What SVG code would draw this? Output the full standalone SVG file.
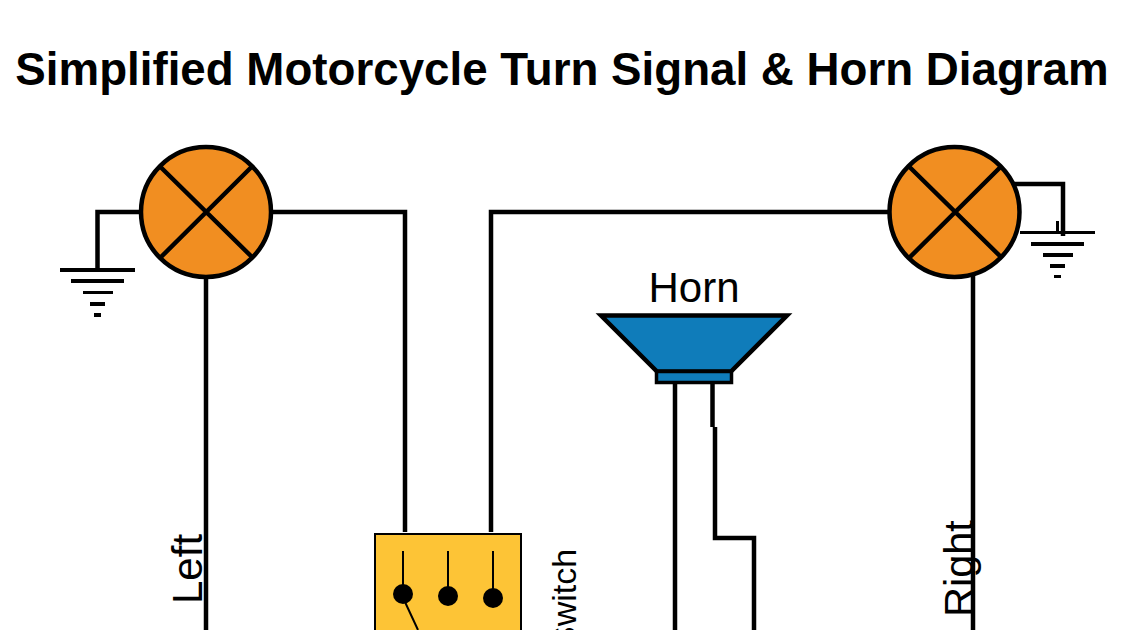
<svg xmlns="http://www.w3.org/2000/svg" width="1125" height="630" viewBox="0 0 1125 630">
<style>
text{font-family:"Liberation Sans",Arial,sans-serif;fill:#000}
.w{fill:none;stroke:#000;stroke-width:4.500;stroke-linejoin:miter}
.lamp{fill:#f18e21;stroke:#000;stroke-width:4.500}
.x{stroke:#000;stroke-width:4.500;fill:none}
.g{fill:#000;stroke:none}
.thin{stroke:#000;stroke-width:2;fill:none}
.label{font-size:42px}
</style>
<rect width="1125" height="630" fill="#fff"/>
<text id="title" x="562" y="84.500" text-anchor="middle" font-size="45.700" font-weight="700">Simplified Motorcycle Turn Signal &amp; Horn Diagram</text>
<g id="connectors">
<path class="w" d="M140 212H97.500V270"/>
<path class="w" d="M206 278V630"/>
<path class="w" d="M272 212H405V532"/>
<path class="w" d="M491 532V212H889"/>
<path class="w" d="M1011 184H1063V236"/>
<path class="w" d="M973 273V630"/>
<path class="w" d="M675 382V630"/>
<path class="w" d="M712.500 382V427"/>
<path class="w" d="M715 427V538H754V630"/>
</g>
<g id="lamp-left">
<circle class="lamp" cx="206" cy="212" r="65"/>
<path class="x" d="M159.500 166L252.500 257.500M252.500 166L160.500 257.500"/>
</g>
<g id="lamp-right">
<circle class="lamp" cx="954.500" cy="212" r="65"/>
<path class="x" d="M908.500 166L1001.500 257.500M1001.500 166L909.500 257.500"/>
</g>
<g id="ground-left">
<rect class="g" x="60" y="268" width="75" height="4"/>
<rect class="g" x="71" y="279" width="53" height="4"/>
<rect class="g" x="83" y="291" width="30" height="3"/>
<rect class="g" x="90" y="302" width="15" height="4"/>
<rect class="g" x="94" y="313" width="7" height="4"/>
</g>
<g id="ground-right">
<rect class="g" x="1056" y="221" width="3" height="11"/>
<rect class="g" x="1020" y="231" width="75" height="3"/>
<rect class="g" x="1031" y="242" width="53" height="4"/>
<rect class="g" x="1043" y="253" width="30" height="4"/>
<rect class="g" x="1050" y="264" width="15" height="4"/>
<rect class="g" x="1054" y="275" width="7" height="3"/>
</g>
<g id="horn">
<path fill="#0f7cba" stroke="#000" stroke-width="4.500" d="M601 315.500H787L731 371.500H657Z"/>
<rect x="656.500" y="371.500" width="75" height="11" fill="#0f7cba" stroke="#000" stroke-width="3.500"/>
<text class="label" x="694" y="302" text-anchor="middle">Horn</text>
</g>
<g id="switch">
<rect x="375" y="534" width="146" height="120" fill="#fdc436" stroke="#000" stroke-width="2"/>
<path class="thin" d="M403 551V594M448 551V596M493 551V598M405 602L418 630"/>
<circle class="g" cx="403" cy="594" r="10"/>
<circle class="g" cx="448" cy="596" r="10"/>
<circle class="g" cx="493" cy="598" r="10"/>
<text transform="translate(576 649) rotate(-90)" font-size="34">Switch</text>
</g>
<text id="label-left" class="label" transform="translate(202 604) rotate(-90)">Left</text>
<text id="label-right" class="label" transform="translate(973 617) rotate(-90)" style="font-size:41.500px">Right</text>
</svg>
